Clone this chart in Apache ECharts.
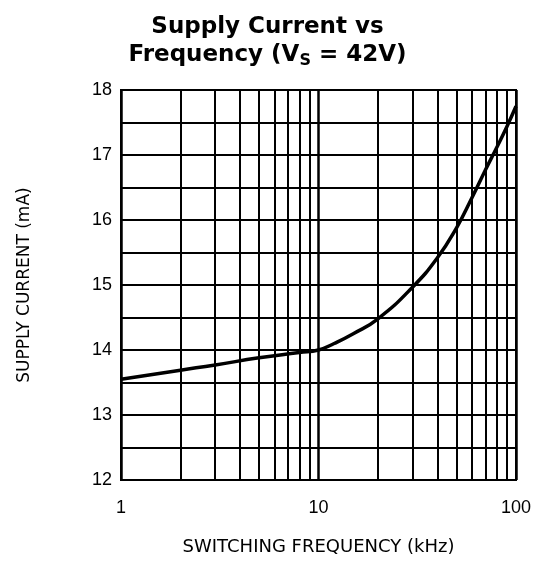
<!DOCTYPE html>
<html>
<head>
<meta charset="utf-8">
<script src="https://cdn.jsdelivr.net/npm/echarts@6/dist/echarts.min.js"></script>
<style>
  html, body { margin: 0; padding: 0; background: #fff; }
  #chart { width: 535px; height: 569px; }
</style>
</head>
<body>
<div id="chart"></div>
<script>
// switching frequency (kHz) and supply current (mA)
var freq = [1, 2, 3, 5, 8, 10, 12, 15, 20, 30, 40, 50, 60, 70, 80, 90, 100];
var current = [13.55, 13.69, 13.77, 13.88, 13.96, 14.0, 14.1, 14.25, 14.48, 14.97, 15.42, 15.88, 16.35, 16.77, 17.12, 17.44, 17.75];
// minor log grid lines between decades
var minorX = [2, 3, 4, 5, 6, 7, 8, 9, 20, 30, 40, 50, 60, 70, 80, 90];

var myChart = echarts.init(document.getElementById('chart'));

var points = freq.map(function (f, i) { return [f, current[i]]; });

myChart.setOption({
    animation: false,
    backgroundColor: '#fff',
    title: {
        text: 'Supply Current vs\nFrequency (V{sub|S} = 42V)',
        left: 'center',
        top: 8,
        textStyle: {
            fontFamily: 'DejaVu Sans',
            fontSize: 23,
            fontWeight: 'bold',
            color: '#000',
            lineHeight: 28,
            rich: {
                sub: {
                    fontFamily: 'DejaVu Sans',
                    fontSize: 16,
                    fontWeight: 'bold',
                    color: '#000',
                    lineHeight: 5,
                    verticalAlign: 'bottom'
                }
            }
        }
    },
    grid: {
        left: 121,
        right: 19,
        top: 90,
        bottom: 89,
        show: true,
        borderColor: '#000',
        borderWidth: 2
    },
    xAxis: {
        type: 'log',
        logBase: 10,
        min: 1,
        max: 100,
        name: 'SWITCHING FREQUENCY (kHz)',
        nameLocation: 'middle',
        nameGap: 58,
        nameTextStyle: { fontFamily: 'DejaVu Sans', fontSize: 18, color: '#000' },
        axisLine: { show: true, lineStyle: { color: '#000', width: 2 } },
        axisTick: { show: false },
        axisLabel: { fontFamily: 'Liberation Sans', fontSize: 18, color: '#000', margin: 19 },
        splitLine: { show: true, lineStyle: { color: '#000', width: 2.5 } }
    },
    yAxis: {
        type: 'value',
        min: 12,
        max: 18,
        interval: 0.5,
        name: 'SUPPLY CURRENT (mA)',
        nameLocation: 'middle',
        nameGap: 88,
        nameTextStyle: { fontFamily: 'DejaVu Sans', fontSize: 17, color: '#000' },
        axisLine: { show: true, lineStyle: { color: '#000', width: 2 } },
        axisTick: { show: false },
        axisLabel: {
            fontFamily: 'Liberation Sans',
            fontSize: 18,
            color: '#000',
            margin: 9,
            formatter: function (v) { return v % 1 === 0 ? String(v) : ''; }
        },
        splitLine: { show: true, lineStyle: { color: '#000', width: 2 } }
    },
    series: [
        {
            type: 'line',
            data: points,
            smooth: true,
            showSymbol: false,
            lineStyle: { color: '#000', width: 3.5 },
            markLine: {
                silent: true,
                symbol: 'none',
                label: { show: false },
                lineStyle: { color: '#000', width: 2, type: 'solid' },
                data: minorX.map(function (x) { return { xAxis: x }; })
            },
            z: 3
        }
    ]
});
</script>
</body>
</html>
